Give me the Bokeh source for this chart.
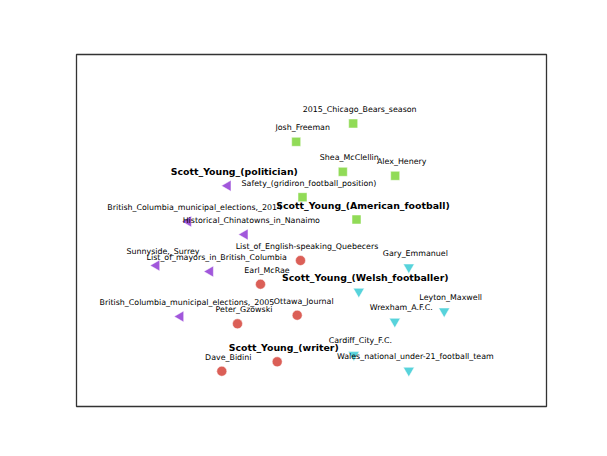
from bokeh.plotting import figure
from bokeh.models import ColumnDataSource, Range1d
from bokeh.core.properties import value
from bokeh.embed import file_html
from bokeh.resources import INLINE
import math

# ---- data (2-D embedding coordinates, arbitrary units) ----
am_names = ["2015_Chicago_Bears_season", "Josh_Freeman", "Shea_McClellin", "Alex_Henery",
            "Safety_(gridiron_football_position)", "Scott_Young_(American_football)"]
am_x = [276.7, 219.7, 266.3, 318.7, 226.0, 280.0]
am_y = [283.0, 264.7, 234.7, 230.7, 209.3, 187.0]

pol_names = ["Scott_Young_(politician)", "British_Columbia_municipal_elections,_2014",
             "Historical_Chinatowns_in_Nanaimo", "Sunnyside,_Surrey",
             "List_of_mayors_in_British_Columbia", "British_Columbia_municipal_elections,_2005"]
pol_x = [151.3, 111.7, 168.3, 80.0, 133.7, 104.0]
pol_y = [220.7, 185.0, 172.0, 141.0, 135.0, 90.0]

wr_names = ["List_of_English-speaking_Quebecers", "Earl_McRae", "Ottawa_Journal",
            "Peter_Gzowski", "Scott_Young_(writer)", "Dave_Bidini"]
wr_x = [224.0, 184.0, 220.7, 161.0, 200.7, 145.3]
wr_y = [146.0, 122.3, 91.3, 82.7, 44.7, 35.3]

we_names = ["Gary_Emmanuel", "Scott_Young_(Welsh_footballer)", "Leyton_Maxwell",
            "Wrexham_A.F.C.", "Cardiff_City_F.C.", "Wales_national_under-21_football_team"]
we_x = [332.3, 282.3, 367.7, 318.3, 277.3, 332.3]
we_y = [139.3, 115.0, 95.3, 85.0, 51.7, 36.0]

colors = {"writer": "#db5f57", "am": "#91db57", "welsh": "#57d3db", "pol": "#a157db"}

p = figure(width=599, height=448, output_backend="svg", toolbar_location=None,
           x_range=Range1d(0, 470), y_range=Range1d(0, 352),
           min_border_left=76, min_border_right=53, min_border_top=54, min_border_bottom=42)
p.xaxis.visible = False
p.yaxis.visible = False
p.xgrid.visible = False
p.ygrid.visible = False
p.outline_line_color = "#333333"
p.outline_line_width = 1.3
p.background_fill_color = "white"
p.border_fill_color = "white"

def src(names, xs, ys):
    bold = [n.startswith("Scott_Young") for n in names]
    return ColumnDataSource(dict(x=xs, y=ys, name=names,
                                 weight=["bold" if b else "normal" for b in bold],
                                 fsize=["9.4px" if b else "7.9px" for b in bold]))

s_am = src(am_names, am_x, am_y)
s_pol = src(pol_names, pol_x, pol_y)
s_wr = src(wr_names, wr_x, wr_y)
s_we = src(we_names, we_x, we_y)

p.scatter("x", "y", source=s_am, marker="square", size=9, fill_color=colors["am"],
          line_color="white", line_width=0.5, fill_alpha=1.0)
p.scatter("x", "y", source=s_pol, marker="triangle", angle=math.pi / 2, size=11,
          fill_color=colors["pol"], line_color="white", line_width=0.5)
p.scatter("x", "y", source=s_wr, marker="circle", size=10, fill_color=colors["writer"],
          line_color="white", line_width=0.5)
p.scatter("x", "y", source=s_we, marker="inverted_triangle", size=11, fill_color=colors["welsh"],
          line_color="white", line_width=0.5)

for s in (s_am, s_pol, s_wr, s_we):
    p.text("x", "y", text="name", source=s, x_offset=6.5, y_offset=-14,
           text_align="center", text_baseline="middle",
           text_font=value("DejaVu Sans"), text_font_size="fsize",
           text_font_style="weight", text_color="black")

open("out.html", "w").write(file_html(p, INLINE))
